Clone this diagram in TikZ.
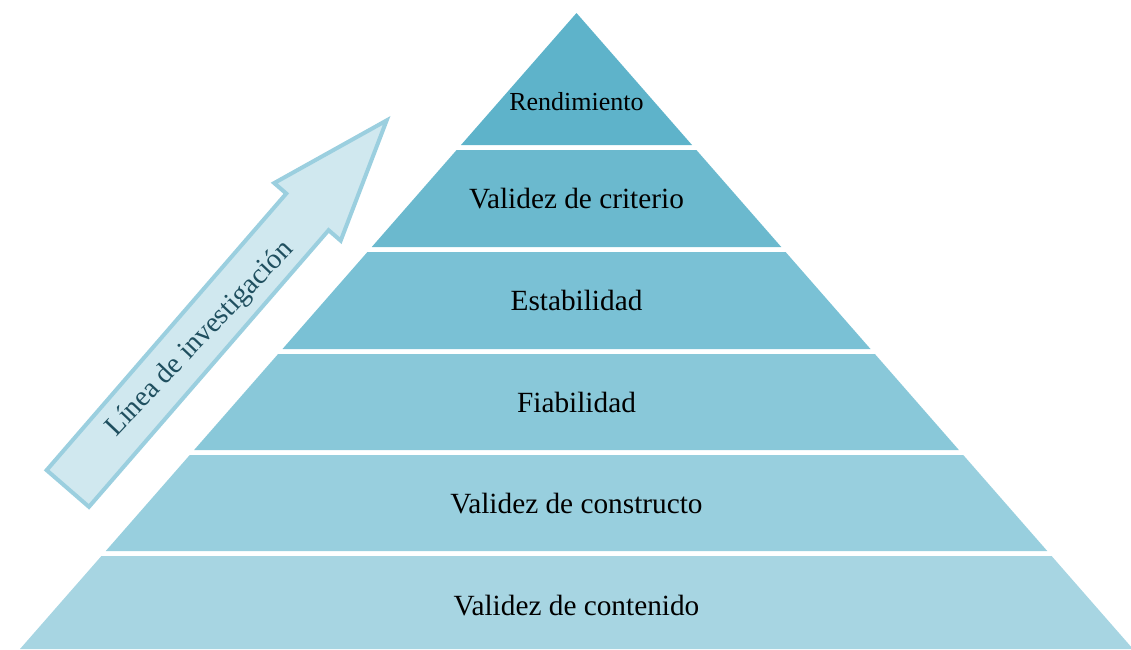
\documentclass[tikz,border=0pt]{standalone}
\usepackage{fontspec}
\setmainfont{Liberation Serif}
\definecolor{bA}{HTML}{5EB3CA}
\definecolor{bB}{HTML}{6BB9CE}
\definecolor{bC}{HTML}{7AC1D5}
\definecolor{bD}{HTML}{89C8D9}
\definecolor{bE}{HTML}{98CFDE}
\definecolor{bF}{HTML}{A7D5E2}
\definecolor{arrfill}{HTML}{D0E8EF}
\definecolor{arrline}{HTML}{9BCFDF}
\definecolor{arrtext}{HTML}{1F4F5F}
\tikzset{
  band/.style={draw=none},
  lbl/.style={anchor=base, inner sep=0pt, text=black, font=\fontsize{29.3}{34}\selectfont},
  arrowbody/.style={fill=arrfill, draw=arrline, line width=4pt, line join=miter},
}
\begin{document}
\begin{tikzpicture}[x=1pt,y=-1pt]
\useasboundingbox (0,0) rectangle (1131,649);
% pyramid bands
\fill[band,bA] (576.5,13) -- (692,145) -- (461,145) -- cycle;
\fill[band,bB] (456.6,150) -- (696.4,150) -- (781.25,247) -- (371.75,247) -- cycle;
\fill[band,bC] (367.4,252) -- (785.6,252) -- (870.5,349) -- (282.5,349) -- cycle;
\fill[band,bD] (278.1,354) -- (874.9,354) -- (958.9,450) -- (194.1,450) -- cycle;
\fill[band,bE] (189.75,455) -- (963.25,455) -- (1047.25,551) -- (105.75,551) -- cycle;
\fill[band,bF] (101.4,556) -- (1051.6,556) -- (1133,649) -- (20,649) -- cycle;
% labels
\node[lbl, font=\fontsize{26}{30}\selectfont] (t1) at (576.5,110) {Rendimiento};
\node[lbl] (t2) at (576.5,208) {Validez de criterio};
\node[lbl] (t3) at (576.5,310) {Estabilidad};
\node[lbl] (t4) at (576.5,412) {Fiabilidad};
\node[lbl] (t5) at (576.5,513) {Validez de constructo};
\node[lbl] (t6) at (576.5,615) {Validez de contenido};
% arrow
\begin{scope}[shift={(66.5,490)}, rotate=49.1]
\draw[arrowbody] (2,28) -- (368,28) -- (368,44) -- (489,0) -- (368,-44) -- (368,-28) -- (2,-28) -- cycle;
\end{scope}
\node[rotate=46.5, anchor=base, text=arrtext, font=\fontsize{28.5}{33}\selectfont, inner sep=0pt] (arrlbl) at (205,344) {Línea de investigación};
\end{tikzpicture}
\end{document}
